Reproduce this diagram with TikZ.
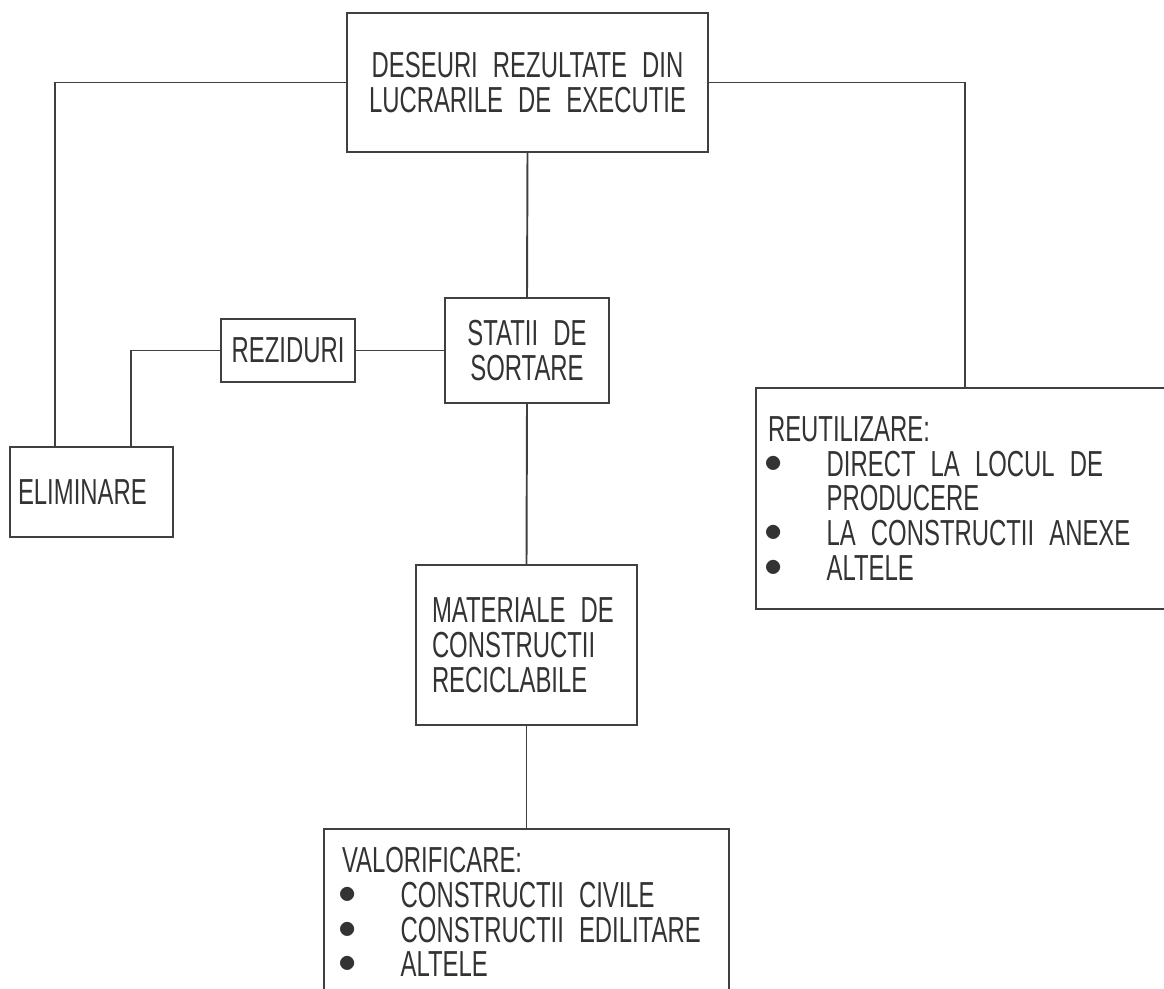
\documentclass[tikz,border=0pt]{standalone}
\usepackage{fontspec}
\setmainfont{Liberation Sans}[FakeStretch=0.66]
\usetikzlibrary{calc}
\newcommand{\pxl}{0.02cm}
\newcommand{\gap}{\hspace{8.6pt}}
\newcommand{\itm}{\makebox[33.4pt][l]{\hspace{-2pt}\raisebox{2.2pt}{$\bullet$}}}
\newcommand{\ind}{\hspace*{33.4pt}}
\tikzset{
  box/.style={draw=black!75,line width=1.1pt,rectangle,inner ysep=0pt,
    text=black!80,font=\fontsize{20.6}{19.8}\selectfont},
  link/.style={draw=black!75,line width=1.1pt},
}
\begin{document}
\begin{tikzpicture}[x=0.02cm,y=-0.02cm]
  \useasboundingbox (0,0) rectangle (1164,989);
  \clip (0,0) rectangle (1164,989);
  % boxes
  \node[box,align=center,inner xsep=0pt,text width=361*\pxl,minimum height=139*\pxl] (top) at (527.5,82.5)
    {DESEURI\gap REZULTATE\gap DIN\\LUCRARILE\gap DE\gap EXECUTIE};
  \node[box,align=center,inner xsep=0pt,text width=164*\pxl,minimum height=105*\pxl] (sort) at (527,350.5)
    {STATII\gap DE\\SORTARE};
  \node[box,align=center,inner xsep=0pt,text width=134*\pxl,minimum height=63*\pxl] (rez) at (288,350.5)
    {REZIDURI};
  \node[box,align=left,inner xsep=8*\pxl,text width=147*\pxl,minimum height=90*\pxl] (elim) at (91.5,492)
    {ELIMINARE};
  \node[box,align=left,inner xsep=16*\pxl,text width=189*\pxl,minimum height=160*\pxl] (mat) at (526.5,645)
    {MATERIALE\gap DE\\CONSTRUCTII\\RECICLABILE};
  \node[box,align=left,inner xsep=12*\pxl,text width=394*\pxl,minimum height=221*\pxl] (reut) at (965,498.5)
    {REUTILIZARE:\\\itm DIRECT\gap LA\gap LOCUL\gap DE\\\ind PRODUCERE\\\itm LA\gap CONSTRUCTII\gap ANEXE\\\itm ALTELE};
  \node[box,align=left,inner xsep=18*\pxl,text width=369*\pxl,minimum height=166*\pxl] (val) at (526.5,912)
    {VALORIFICARE:\\\itm CONSTRUCTII\gap CIVILE\\\itm CONSTRUCTII\gap EDILITARE\\\itm ALTELE};
  % connectors
  \draw[link] (top.south) -- (sort.north);
  \draw[link] (sort.south) -- (mat.north);
  \draw[link] (mat.south) -- (val.north);
  \draw[link] (rez.east) -- (sort.west);
  \draw[link] (rez.west) -| ($(elim.north west)!0.742!(elim.north east)$);
  \draw[link] (top.west) -| ($(elim.north west)!0.276!(elim.north east)$);
  \draw[link] (top.east) -| (reut.north);
\end{tikzpicture}
\end{document}
